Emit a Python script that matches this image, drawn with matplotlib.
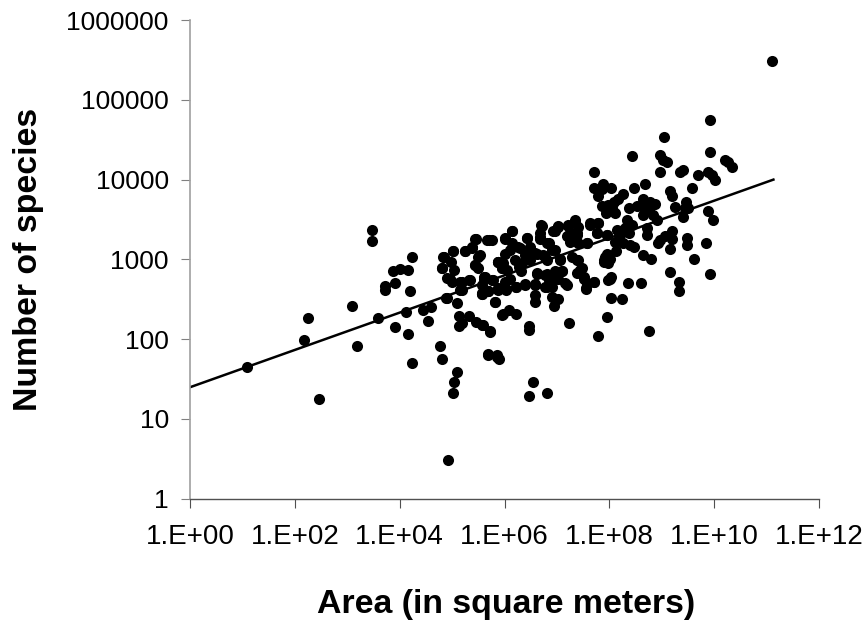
import numpy as np
import matplotlib
matplotlib.use("Agg")
import matplotlib.pyplot as plt

plt.rcParams['font.family'] = ['Liberation Sans', 'DejaVu Sans']

# values, kept as log10(area), log10(species)
log_area = [
    1.09, 2.18, 2.26, 2.46, 3.10, 3.19, 3.47, 3.47, 3.59, 3.72, 3.72, 3.88, 4.01, 4.16, 3.92, 4.24, 4.20,
    3.92, 4.12, 4.16, 4.24, 4.44, 4.59, 4.54, 4.76, 4.81, 4.89, 4.92, 5.01, 5.04, 5.09, 5.09, 5.13, 5.14,
    5.18, 5.33, 5.45, 5.57, 5.73, 5.69, 5.85, 5.81, 5.57, 5.69, 4.85, 5.01, 4.81, 4.97, 5.03, 4.90, 4.99,
    5.18, 5.15, 5.33, 5.25, 5.45, 5.38, 5.50, 5.44, 5.50, 5.66, 5.76, 5.60, 5.77, 5.88, 5.88, 5.95, 5.95,
    9.93, 9.05, 8.44, 8.96, 9.02, 9.10, 9.93, 10.21, 10.27, 10.34, 7.71, 8.96, 9.35, 9.41, 9.69, 9.89,
    9.96, 10.02, 9.57, 8.68, 8.47, 7.71, 7.88, 8.03, 7.86, 7.79, 8.26, 8.17, 9.16, 9.20, 8.08, 7.86, 7.98,
    8.05, 7.94, 8.11, 9.46, 9.26, 9.45, 9.51, 9.40, 8.64, 8.37, 8.52, 8.65, 8.78, 8.87, 8.75, 8.84, 8.91,
    8.65, 8.33, 8.43, 8.30, 8.71, 8.71, 8.15, 8.21, 8.37, 8.11, 8.27, 8.40, 8.47, 8.13, 7.95, 7.90, 7.98,
    8.03, 7.98, 8.35, 8.60, 8.03, 8.24, 7.95, 7.79, 8.76, 7.23, 6.46, 6.46, 6.54, 6.82, 6.46, 5.68, 5.85,
    5.90, 5.59, 5.73, 5.97, 6.09, 6.21, 5.81, 6.58, 6.58, 6.90, 7.03, 6.95, 8.97, 8.92, 9.19, 9.19, 9.07,
    9.49, 9.49, 9.85, 9.16, 9.89, 9.97, 8.64, 8.80, 9.61, 9.16, 9.93, 9.33, 9.33, 5.71, 6.14, 6.01, 6.42,
    6.70, 6.68, 6.68, 7.02, 6.97, 7.35, 7.22, 7.41, 7.63, 7.79, 7.76, 7.95, 7.25, 7.38, 7.25, 7.41, 7.57,
    6.84, 6.90, 6.30, 6.14, 6.49, 6.58, 6.74, 6.01, 5.88, 5.98, 6.20, 6.33, 6.49, 6.81, 7.06, 7.28, 7.41,
    6.04, 6.31, 7.47, 7.38, 6.62, 6.81, 6.97, 7.09, 5.63, 5.79, 6.01, 5.57, 6.84, 7.03, 7.19, 7.51, 7.57,
    7.71, 7.56, 6.58, 6.77, 6.90, 6.39, 6.21, 6.03, 5.88, 5.69, 5.57, 11.10,
]
log_species = [
    1.65, 1.99, 2.26, 1.25, 2.42, 1.91, 3.37, 3.23, 2.26, 2.67, 2.62, 2.86, 2.88, 2.87, 2.71, 3.03, 2.61,
    2.15, 2.34, 2.07, 1.70, 2.37, 2.40, 2.23, 1.91, 1.75, 2.52, 0.48, 1.33, 1.46, 1.59, 2.45, 2.29, 2.16,
    2.20, 2.29, 2.21, 2.18, 2.09, 1.81, 1.78, 2.47, 2.57, 2.61, 3.03, 3.11, 2.89, 2.97, 2.87, 2.77, 2.72,
    2.62, 2.72, 2.74, 3.11, 3.26, 3.14, 3.03, 2.93, 2.89, 3.24, 3.24, 2.76, 2.74, 2.97, 2.64, 2.89, 2.30,
    4.75, 4.53, 4.30, 4.31, 4.25, 4.22, 4.35, 4.25, 4.22, 4.16, 4.09, 4.09, 4.09, 4.12, 4.06, 4.09,
    4.06, 4.00, 3.90, 3.95, 3.90, 3.90, 3.95, 3.90, 3.88, 3.79, 3.82, 3.76, 3.86, 3.79, 3.72, 3.67, 3.68,
    3.64, 3.58, 3.58, 3.72, 3.66, 3.65, 3.64, 3.53, 3.76, 3.64, 3.67, 3.66, 3.72, 3.70, 3.62, 3.56, 3.49,
    3.56, 3.49, 3.43, 3.39, 3.39, 3.31, 3.37, 3.31, 3.33, 3.22, 3.20, 3.18, 3.15, 3.10, 3.07, 2.99, 2.95,
    2.78, 2.74, 2.71, 2.71, 2.52, 2.50, 2.28, 2.04, 2.10, 2.20, 2.16, 2.11, 1.46, 1.33, 1.29, 1.80, 1.80,
    1.75, 2.18, 2.10, 2.31, 2.37, 2.31, 2.47, 2.55, 2.47, 2.53, 2.50, 2.42, 3.24, 3.21, 3.35, 3.26, 3.29,
    3.27, 3.18, 3.21, 3.13, 3.61, 3.50, 3.05, 3.00, 3.00, 2.84, 2.82, 2.72, 2.60, 3.24, 3.35, 3.27, 3.27,
    3.43, 3.33, 3.26, 3.42, 3.35, 3.49, 3.42, 3.41, 3.43, 3.45, 3.33, 3.31, 3.33, 3.31, 3.22, 3.20, 3.21,
    3.20, 3.12, 3.14, 3.20, 3.16, 3.08, 3.05, 3.07, 2.97, 2.95, 2.99, 2.95, 2.99, 2.99, 2.99, 3.03, 2.99,
    2.87, 2.85, 2.89, 2.83, 2.82, 2.82, 2.85, 2.85, 2.78, 2.74, 2.72, 2.68, 2.74, 2.76, 2.68, 2.78, 2.71,
    2.72, 2.63, 2.69, 2.66, 2.66, 2.69, 2.66, 2.63, 2.63, 2.61, 2.57, 5.49,
]

# more points picked out of the dense middle of the cloud
dense_area = [
    4.83, 5.01, 4.80, 4.96, 5.25, 5.44, 5.38, 5.53, 5.44, 5.60, 5.88, 6.01, 6.14, 6.11, 6.25, 6.42, 6.39,
    6.27, 6.11, 5.95, 6.62, 6.77, 6.68, 6.71, 6.81, 6.97, 7.03, 6.93, 7.22, 7.35, 7.19, 7.38, 7.57, 7.63,
    7.79, 7.76, 7.95, 7.06, 7.38, 7.44, 7.09, 6.77, 6.94, 6.62, 7.16, 6.81, 7.51, 7.71, 7.56, 6.59, 6.39,
    6.22, 6.03, 5.88, 5.69, 5.57, 5.34, 5.18, 5.15, 4.90, 7.92, 7.89, 8.02, 8.02,
]
dense_species = [
    3.03, 3.11, 2.89, 2.76, 3.11, 3.26, 3.16, 3.06, 2.93, 2.78, 2.97, 3.26, 3.35, 3.12, 3.16, 3.27, 3.05,
    2.91, 2.76, 2.89, 3.07, 3.03, 3.28, 3.42, 3.20, 3.12, 3.41, 3.35, 3.43, 3.47, 3.29, 3.33, 3.20, 3.45,
    3.45, 3.33, 3.31, 3.01, 2.99, 2.87, 2.85, 2.80, 2.78, 2.83, 2.70, 2.66, 2.76, 2.72, 2.64, 2.68, 2.68,
    2.65, 2.62, 2.62, 2.61, 2.58, 2.74, 2.72, 2.62, 2.52, 3.03, 2.97, 3.01, 2.76,
]

# trend line end points
trend_area = [1, 1.35e11]
trend_species = [25, 10000]

x_ticks = [1e0, 1e2, 1e4, 1e6, 1e8, 1e10, 1e12]
x_labels = ["1.E+00", "1.E+02", "1.E+04", "1.E+06", "1.E+08", "1.E+10", "1.E+12"]
y_ticks = [1, 10, 100, 1000, 10000, 100000, 1000000]
y_labels = ["1", "10", "100", "1000", "10000", "100000", "1000000"]

area = 10 ** np.array(log_area + dense_area)
species = 10 ** np.array(log_species + dense_species)

fig = plt.figure(figsize=(8.66, 6.25), dpi=100)
ax = fig.add_axes([190 / 866, 1 - 498.8 / 625, 629 / 866, 478.8 / 625])

ax.plot(trend_area, trend_species, color='black', lw=1.8, zorder=2)
ax.scatter(area, species, s=64, color='black', linewidths=0, zorder=3, clip_on=False)

ax.set_xscale('log')
ax.set_yscale('log')
ax.set_xlim(1, 1e12)
ax.set_ylim(1, 1e6)
ax.set_xticks(x_ticks)
ax.set_xticklabels(x_labels)
ax.set_yticks(y_ticks)
ax.set_yticklabels(y_labels)
ax.minorticks_off()

ax.spines['top'].set_visible(False)
ax.spines['right'].set_visible(False)
ax.spines['left'].set_color('#a0a0a0')
ax.spines['bottom'].set_color('#505050')
ax.spines['left'].set_linewidth(1.2)
ax.spines['bottom'].set_linewidth(1.0)
ax.tick_params(axis='x', length=6.3, width=0.8, color='#505050', labelsize=20, pad=12)
ax.tick_params(axis='y', length=6.3, width=0.8, color='#808080', labelsize=19, pad=9)

fig.text(29 / 866, 1 - 259 / 625, "Number of species", rotation=90, fontsize=24.4, fontweight='bold', ha='center', va='center')
fig.text(506 / 866, 1 - 604 / 625, "Area (in square meters)", fontsize=24.4, fontweight='bold', ha='center', va='center')

fig.savefig("out.png", dpi=100)
